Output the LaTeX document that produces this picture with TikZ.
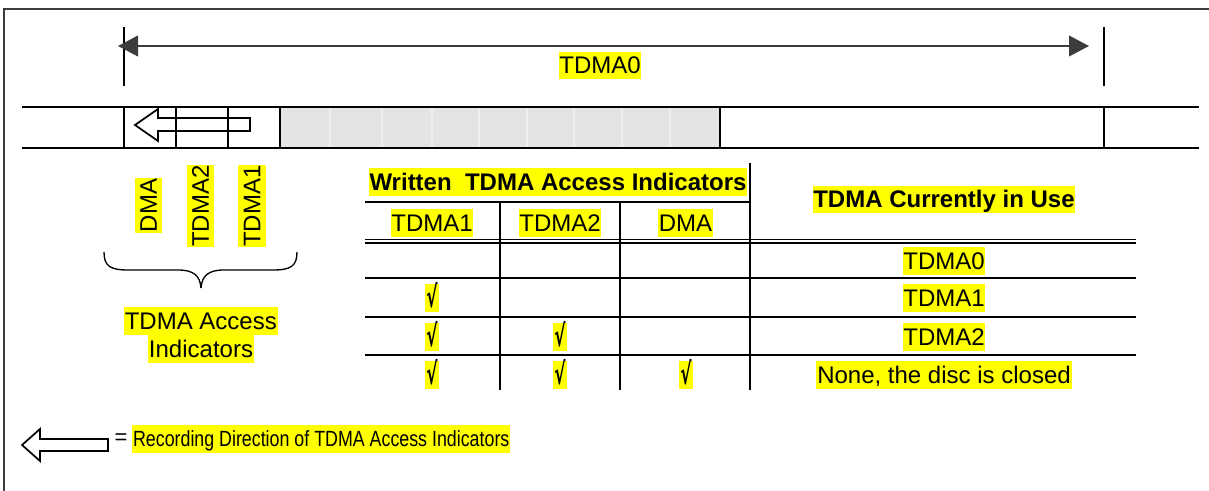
\documentclass[tikz,border=0pt]{standalone}
\usepackage{fontspec}
\setmainfont{Liberation Sans}
\newfontfamily\chkfont{DejaVu Sans}
\usetikzlibrary{arrows.meta}
\definecolor{hlyellow}{RGB}{255,255,0}
\definecolor{bandgray}{RGB}{228,228,228}
\definecolor{framegray}{RGB}{60,60,60}
\begin{document}
\begin{tikzpicture}[x=0.75pt,y=-0.75pt,
  txt/.style={font=\fontsize{18}{20}\selectfont, inner sep=0pt},
  hl/.style={txt, fill=hlyellow, inner xsep=0.6pt, inner ysep=0pt, text height=16.4pt, text depth=4.0pt},
  bhl/.style={hl, font=\fontsize{18}{20}\selectfont\bfseries},
  chk/.style={hl, font=\fontsize{18}{20}\selectfont\chkfont\bfseries, inner xsep=0.8pt},
  frameline/.style={line width=1.2pt, draw=framegray},
  bandline/.style={line width=1.3pt, draw=black},
  gridline/.style={line width=1.5pt, draw=black},
  dbline/.style={line width=1.1pt, draw=black},
  dimline/.style={line width=1.3pt, draw=framegray, {Triangle[length=15pt,width=15.5pt]}-{Triangle[length=15pt,width=15.5pt]}},
  tickline/.style={line width=1.5pt, draw=black},
  blockarrow/.style={line width=1.3pt, draw=black, line join=miter},
  bracestyle/.style={line width=1pt, draw=black}
]
\useasboundingbox (0,0) rectangle (1209,491);

% frame (top and left edges)
\draw[frameline] (4,495) -- (4,9) -- (1213,9);

% dimension TDMA0
\coordinate (tlA) at (124,27);
\coordinate (tlB) at (124,86);
\coordinate (trA) at (1104,27);
\coordinate (trB) at (1104,86);
\draw[tickline] (tlA) -- (tlB);
\draw[tickline] (trA) -- (trB);
\coordinate (dimL) at (118,46);
\coordinate (dimR) at (1089,46);
\draw[dimline] (dimL) -- (dimR);
\node[hl] (tdma0) at (600,65.5) {TDMA0};

% band
\fill[bandgray] (280,107) rectangle (720,148);
\foreach \x in {330,382,432,479,527,574,622,670}
  \draw[line width=0.8pt, draw=white!45!bandgray] (\x,107.7) -- (\x,147.3);
\draw[bandline] (22,107) -- (1199,107);
\draw[bandline] (22,148) -- (1199,148);
\foreach \x in {124,176,228,280,720,1104}
  \draw[bandline] (\x,107) -- (\x,148);
\draw[blockarrow] (135,125) -- (158,109) -- (158,118) -- (250,118) -- (250,131) -- (158,131) -- (158,141) -- cycle;

% rotated access indicator labels
\node[hl, rotate=90] (ldma) at (148.5,205.5) {DMA};
\node[hl, rotate=90] (ltdma2) at (200.5,206) {TDMA2};
\node[hl, rotate=90] (ltdma1) at (252,206) {TDMA1};

% brace
\draw[bracestyle] (104,252) .. controls (104,266) and (110,270) .. (128,270) -- (178,270)
  .. controls (194,270) and (200,276) .. (201,288);
\draw[bracestyle] (297,252) .. controls (297,266) and (291,270) .. (273,270) -- (224,270)
  .. controls (208,270) and (202,276) .. (201,288);

\node[hl] (acc1) at (200.8,321) {TDMA Access};
\node[hl] (acc2) at (201,349) {Indicators};

% table grid
\draw[gridline] (750,163) -- (750,390);
\draw[gridline] (365,202) -- (750,202);
\draw[gridline] (500,202) -- (500,390);
\draw[gridline] (620,202) -- (620,390);
\draw[dbline] (365,239.5) -- (1136,239.5);
\draw[dbline] (365,243) -- (1136,243);
\foreach \y in {278.3,316.7,355}
  \draw[gridline] (365,\y) -- (1136,\y);

% table headers
\node[bhl] (hwritten) at (558,182) {Written\ \ TDMA Access Indicators};
\node[bhl] (hcurrent) at (944,199.5) {TDMA Currently in Use};
\node[hl] (htdma1) at (432,223) {TDMA1};
\node[hl] (htdma2) at (560,223) {TDMA2};
\node[hl] (hdma) at (685.5,223) {DMA};

% table rows
\node[hl] (r1) at (944,261) {TDMA0};
\node[hl] (r2) at (944,298) {TDMA1};
\node[hl] (r3) at (944,337) {TDMA2};
\node[hl] (r4) at (944,375) {None, the disc is closed};

\newcommand{\chkmark}{\raisebox{-1pt}{\scalebox{0.7}[1.25]{√}}}
\node[chk] (c21) at (432,298) {\chkmark};
\node[chk] (c31) at (432,337) {\chkmark};
\node[chk] (c32) at (560,337) {\chkmark};
\node[chk] (c41) at (432,375) {\chkmark};
\node[chk] (c42) at (560,375) {\chkmark};
\node[chk] (c43) at (686,375) {\chkmark};

% legend
\draw[blockarrow] (22,445) -- (40,429) -- (40,439) -- (108,439) -- (108,451) -- (40,451) -- (40,461) -- cycle;
\node[txt, font=\fontsize{16.5}{18}\selectfont] (eq) at (121,439) {=};
\node[hl, anchor=west, font=\fontsize{16.5}{18}\selectfont, text height=15.8pt, text depth=4.9pt] (legend) at (132,439)
  {\scalebox{0.81}[1]{Recording Direction of TDMA Access Indicators}};
\end{tikzpicture}
\end{document}
